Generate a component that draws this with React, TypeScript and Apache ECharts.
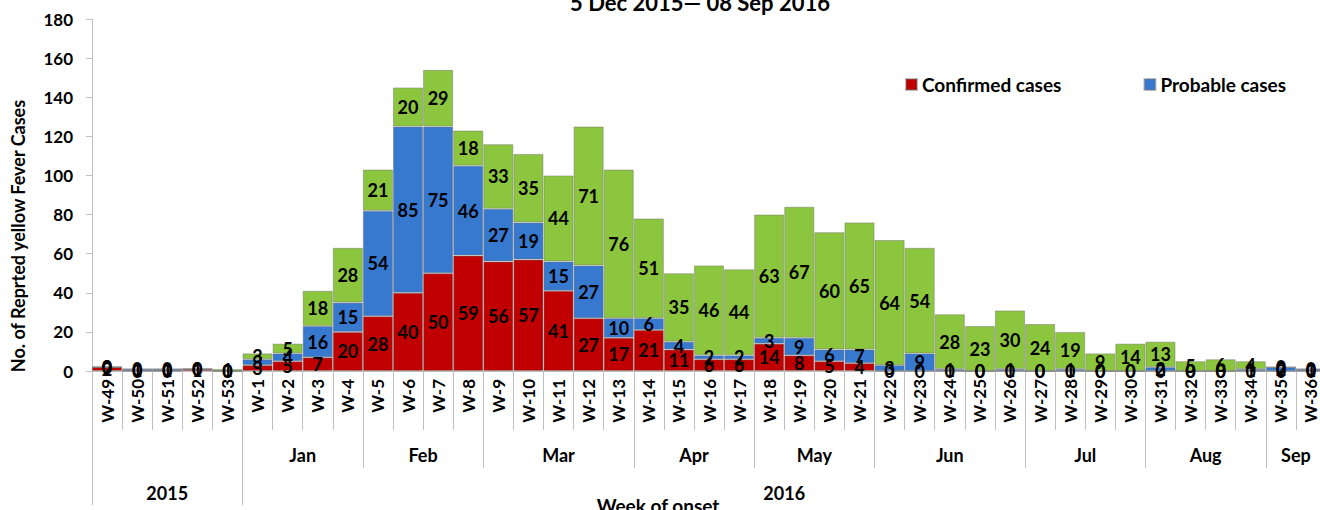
import React, { useEffect, useRef } from 'react';
import * as echarts from 'echarts';

const weeks = [
  'W-49', 'W-50', 'W-51', 'W-52', 'W-53',
  'W-1', 'W-2', 'W-3', 'W-4', 'W-5', 'W-6', 'W-7', 'W-8', 'W-9', 'W-10',
  'W-11', 'W-12', 'W-13', 'W-14', 'W-15', 'W-16', 'W-17', 'W-18', 'W-19', 'W-20',
  'W-21', 'W-22', 'W-23', 'W-24', 'W-25', 'W-26', 'W-27', 'W-28', 'W-29', 'W-30',
  'W-31', 'W-32', 'W-33', 'W-34', 'W-35', 'W-36',
];
const confirmed = [
  2, 0, 0, 1, 0,
  3, 5, 7, 20, 28, 40, 50, 59, 56, 57,
  41, 27, 17, 21, 11, 6, 6, 14, 8, 5,
  4, 0, 0, 0, 0, 0, 0, 0, 0, 0,
  0, 0, 0, 0, 0, 0,
];
const probable = [
  0, 1, 1, 0, 0,
  3, 4, 16, 15, 54, 85, 75, 46, 27, 19,
  15, 27, 10, 6, 4, 2, 2, 3, 9, 6,
  7, 3, 9, 1, 0, 1, 0, 1, 0, 0,
  2, 0, 0, 1, 2, 1,
];
const suspected = [
  0, 0, 0, 0, 1,
  3, 5, 18, 28, 21, 20, 29, 18, 33, 35,
  44, 71, 76, 51, 35, 46, 44, 63, 67, 60,
  65, 64, 54, 28, 23, 30, 24, 19, 9, 14,
  13, 5, 6, 4, 0, 0,
];
const monthNames = ['Jan', 'Feb', 'Mar', 'Apr', 'May', 'Jun', 'Jul', 'Aug', 'Sep'];
const monthWeekCounts = [4, 4, 5, 4, 4, 5, 4, 4, 2];
const yearNames = ['2015', '2016'];
const yearWeekCounts = [5, 36];
const seriesNames = ['Confirmed cases', 'Probable cases', 'Suspected cases'];
const legendNames = ['Confirmed cases', 'Probable cases'];
const titleText = '5 Dec 2015\u2014 08 Sep 2016';
const yAxisTitle = 'No. of Reprted yellow Fever Cases';
const xAxisTitle = 'Week of onset';

const FONT = 'Lato, "Open Sans", sans-serif';

function groupAxis(names: string[], counts: number[], offset: number, total: number) {
  const n = total * 2 + 1;
  const labels: string[] = new Array(n).fill('');
  const ticks = new Set<number>([offset * 2]);
  let start = offset;
  names.forEach((nm, i) => {
    const end = start + counts[i];
    labels[start + end] = nm;
    ticks.add(end * 2);
    start = end;
  });
  const data = labels.map((_, i) => String(i));
  return { labels, ticks, data };
}

export default function App() {
  const ref = useRef<HTMLDivElement>(null);
  useEffect(() => {
    if (!ref.current) return;
    const chart = echarts.init(ref.current, null, { renderer: 'svg' });
    const total = weeks.length;
    const months = groupAxis(monthNames, monthWeekCounts, yearWeekCounts[0], total);
    const years = groupAxis(yearNames, yearWeekCounts, 0, total);
    const gray = '#bfbfbf';
    const colors = ['#C00000', '#3779CF', '#8CC63F'];
    const values = [confirmed, probable, suspected];

    const groupX = (g: any, tickLen: number, margin: number) => ({
      type: 'category',
      gridIndex: 0,
      position: 'bottom',
      boundaryGap: false,
      data: g.data,
      axisLine: { show: false },
      axisTick: {
        show: true,
        length: tickLen,
        interval: (idx: number) => g.ticks.has(idx),
        lineStyle: { color: gray },
      },
      axisLabel: {
        interval: 0,
        margin,
        formatter: (_v: string, idx: number) => g.labels[idx],
        fontFamily: FONT,
        fontWeight: 'bold',
        fontSize: 18,
        color: '#000',
      },
      splitLine: { show: false },
    });

    chart.setOption({
      animation: false,
      color: colors,
      grid: {
        left: 92,
        top: 19,
        width: 1234,
        bottom: 139,
        containLabel: false,
        outerBoundsMode: 'none',
      },
      legend: {
        data: legendNames,
        left: 900,
        top: 70,
        icon: 'rect',
        itemWidth: 11,
        itemHeight: 11,
        itemGap: 82,
        textStyle: { fontFamily: FONT, fontWeight: 'bold', fontSize: 19, color: '#000' },
      },
      xAxis: [
        {
          type: 'category',
          data: weeks,
          axisLine: { show: true, lineStyle: { color: gray } },
          axisTick: { show: true, interval: 0, length: 59, lineStyle: { color: gray } },
          axisLabel: {
            interval: 0,
            rotate: 90,
            margin: 8,
            fontFamily: FONT,
            fontWeight: 'bold',
            fontSize: 17,
            color: '#000',
          },
        },
        groupX(months, 97, 75),
        groupX(years, 134, 113),
      ],
      yAxis: {
        type: 'value',
        min: 0,
        max: 180,
        interval: 20,
        splitLine: { show: false },
        axisLine: { show: true, lineStyle: { color: gray } },
        axisTick: { show: true, length: 6, lineStyle: { color: gray } },
        axisLabel: {
          margin: 19,
          fontFamily: FONT,
          fontWeight: 'bold',
          fontSize: 17,
          color: '#000',
        },
      },
      series: seriesNames.map((name, i) => ({
        name,
        type: 'bar',
        stack: 'total',
        xAxisIndex: 0,
        barCategoryGap: '0%',
        data: values[i],
        itemStyle: { color: colors[i], borderColor: 'rgba(110,110,110,0.45)', borderWidth: 1 },
        label: {
          show: true,
          position: 'inside',
          color: '#000',
          fontFamily: FONT,
          fontWeight: 'bold',
          fontSize: 18,
        },
      })),
      graphic: [
        {
          type: 'text',
          x: 700,
          y: 13,
          style: {
            text: titleText,
            font: `bold 22px ${FONT}`,
            fill: '#000',
            textAlign: 'center',
            align: 'center',
            textVerticalAlign: 'bottom',
            verticalAlign: 'bottom',
          },
        },
        {
          type: 'text',
          x: 18,
          y: 236,
          rotation: Math.PI / 2,
          style: {
            text: yAxisTitle,
            font: `bold 18px ${FONT}`,
            fill: '#000',
            textAlign: 'center',
            align: 'center',
            textVerticalAlign: 'middle',
            verticalAlign: 'middle',
          },
        },
        {
          type: 'text',
          x: 658,
          y: 505,
          style: {
            text: xAxisTitle,
            font: `bold 19px ${FONT}`,
            fill: '#000',
            textAlign: 'center',
            align: 'center',
            textVerticalAlign: 'middle',
            verticalAlign: 'middle',
          },
        },
      ],
    });
    return () => chart.dispose();
  }, []);
  return <div ref={ref} style={{ width: 1320, height: 510, position: 'absolute', left: 0, top: 0 }} />;
}
